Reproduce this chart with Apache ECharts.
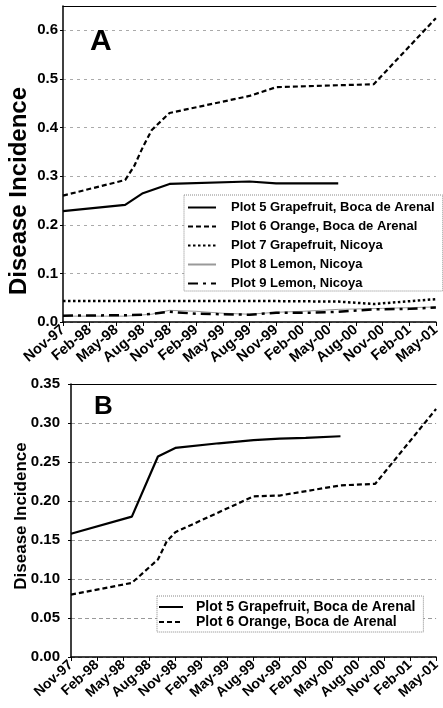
<!DOCTYPE html>
<html>
<head>
<meta charset="utf-8">
<script src="https://cdn.jsdelivr.net/npm/echarts@6/dist/echarts.min.js"></script>
<style>
  html, body { margin: 0; padding: 0; background: #fff; }
  #chart { width: 443px; height: 708px; }
</style>
</head>
<body>
<div id="chart"></div>
<script>
// monthly categories, a tick label every third month
const months = [
  'Nov-97', 'Dec-97', 'Jan-98', 'Feb-98', 'Mar-98', 'Apr-98', 'May-98', 'Jun-98', 'Jul-98', 'Aug-98',
  'Sep-98', 'Oct-98', 'Nov-98', 'Dec-98', 'Jan-99', 'Feb-99', 'Mar-99', 'Apr-99', 'May-99', 'Jun-99',
  'Jul-99', 'Aug-99', 'Sep-99', 'Oct-99', 'Nov-99', 'Dec-99', 'Jan-00', 'Feb-00', 'Mar-00', 'Apr-00',
  'May-00', 'Jun-00', 'Jul-00', 'Aug-00', 'Sep-00', 'Oct-00', 'Nov-00', 'Dec-00', 'Jan-01', 'Feb-01',
  'Mar-01', 'Apr-01', 'May-01'
];

// panel A
const plot5A = [['Nov-97', 0.228], ['Jun-98', 0.241], ['Aug-98', 0.265], ['Nov-98', 0.284], ['Aug-99', 0.289], ['Nov-99', 0.285], ['Jun-00', 0.285]];
const plot6A = [['Nov-97', 0.26], ['Jun-98', 0.292], ['Jul-98', 0.32], ['Aug-98', 0.36], ['Sep-98', 0.395], ['Nov-98', 0.43],
  ['Aug-99', 0.465], ['Nov-99', 0.483], ['Jun-00', 0.487], ['Oct-00', 0.489], ['May-01', 0.625]];
const plot7A = [['Nov-97', 0.043], ['Nov-98', 0.043], ['Nov-99', 0.043], ['Jun-00', 0.042], ['Oct-00', 0.037], ['May-01', 0.047]];
const plot8A = [['Nov-97', 0.012], ['Jun-98', 0.012], ['Sep-98', 0.016], ['Nov-98', 0.024], ['Feb-99', 0.022], ['May-99', 0.018],
  ['Aug-99', 0.016], ['Nov-99', 0.02], ['Feb-00', 0.022], ['Jun-00', 0.026], ['Nov-00', 0.028], ['May-01', 0.031]];
const plot9A = [['Nov-97', 0.013], ['Jun-98', 0.014], ['Aug-98', 0.015], ['Nov-98', 0.021], ['Feb-99', 0.017], ['Aug-99', 0.015],
  ['Nov-99', 0.019], ['Mar-00', 0.019], ['Jun-00', 0.021], ['Oct-00', 0.026], ['Feb-01', 0.027], ['May-01', 0.03]];

// panel B
const plot5B = [['Nov-97', 0.158], ['Jun-98', 0.18], ['Sep-98', 0.257], ['Nov-98', 0.268], ['Apr-99', 0.274], ['Aug-99', 0.278],
  ['Nov-99', 0.28], ['Feb-00', 0.281], ['Jun-00', 0.283]];
const plot6B = [['Nov-97', 0.08], ['Jun-98', 0.095], ['Sep-98', 0.125], ['Oct-98', 0.148], ['Nov-98', 0.16], ['Aug-99', 0.206],
  ['Nov-99', 0.207], ['Jun-00', 0.22], ['Oct-00', 0.222], ['May-01', 0.318]];

const names = [
  'Plot 5 Grapefruit, Boca de Arenal',
  'Plot 6 Orange, Boca de Arenal',
  'Plot 7 Grapefruit, Nicoya',
  'Plot 8 Lemon, Nicoya',
  'Plot 9 Lemon, Nicoya'
];

const font = 'Liberation Sans, Arial, sans-serif';
const styles = [
  { color: '#000', width: 2.2, type: 'solid' },
  { color: '#000', width: 2.2, type: [5, 3] },
  { color: '#000', width: 2.5, type: [2.5, 2.5] },
  { color: '#999', width: 1, type: 'solid' },
  { color: '#000', width: 2.5, type: [10, 5, 3, 5] }
];

function line(name, data, st, idx) {
  return {
    name: name, type: 'line', data: data, symbol: 'none',
    xAxisIndex: idx, yAxisIndex: idx,
    lineStyle: st, itemStyle: { color: st.color },
    emphasis: { disabled: true }
  };
}

function bottomAxis(idx, labelSize, rot) {
  return {
    type: 'category', gridIndex: idx, data: months, boundaryGap: false,
    axisLine: { lineStyle: { color: '#000', width: 1.5 } },
    axisTick: { interval: 2, length: 4, lineStyle: { color: '#000' } },
    axisLabel: { interval: 2, rotate: rot, margin: 6, color: '#000', fontFamily: font, fontWeight: 'bold', fontSize: labelSize }
  };
}

function topAxis(idx) {
  return {
    type: 'category', gridIndex: idx, data: months, boundaryGap: false, position: 'top',
    axisLine: { lineStyle: { color: '#000', width: 1.2 } },
    axisTick: { show: false }, axisLabel: { show: false }
  };
}

function yTitle(x, y, size) {
  return {
    type: 'text', x: x, y: y, rotation: Math.PI / 2,
    style: { text: 'Disease Incidence', fill: '#000', font: 'bold ' + size + 'px ' + font, align: 'center', verticalAlign: 'middle' }
  };
}

const chart = echarts.init(document.getElementById('chart'));
chart.setOption({
  animation: false,
  backgroundColor: '#fff',
  title: [
    { text: 'A', left: 85, top: 22, textStyle: { fontFamily: font, fontWeight: 'bold', fontSize: 30, color: '#000' } },
    { text: 'B', left: 89, top: 389, textStyle: { fontFamily: font, fontWeight: 'bold', fontSize: 26, color: '#000' } }
  ],
  graphic: [yTitle(19, 191, 24), yTitle(21, 516, 17)],
  grid: [
    { left: 63, right: 1, top: 6, bottom: 386 },
    { left: 71, right: 1, top: 384, bottom: 51 }
  ],
  legend: [
    {
      data: names, orient: 'vertical', left: 184, top: 195, width: 258,
      itemWidth: 28, itemHeight: 12, itemGap: 6, padding: [6, 8, 1, 3],
      itemStyle: { opacity: 0 },
      borderColor: '#888', borderWidth: 1, borderType: 'dotted', backgroundColor: '#fff',
      textStyle: { fontFamily: font, fontWeight: 'bold', fontSize: 13, lineHeight: 13, color: '#000', padding: [0, 0, 0, 10] }
    },
    {
      data: [{ name: 'B5' }, { name: 'B6' }], orient: 'vertical', left: 157, top: 596,
      itemWidth: 24, itemHeight: 10, itemGap: 1, padding: [4, 8, 3, 1],
      itemStyle: { opacity: 0 },
      borderColor: '#888', borderWidth: 1, borderType: 'dotted', backgroundColor: '#fff',
      formatter: function (n) { return n === 'B5' ? names[0] : names[1]; },
      textStyle: { fontFamily: font, fontWeight: 'bold', fontSize: 14, lineHeight: 14, color: '#000', padding: [0, 0, 0, 8] }
    }
  ],
  xAxis: [bottomAxis(0, 14.5, 40), bottomAxis(1, 14, 42), topAxis(0), topAxis(1)],
  yAxis: [
    {
      type: 'value', gridIndex: 0, min: 0, max: 0.65, interval: 0.1,
      axisLine: { show: true, lineStyle: { color: '#000', width: 1.5 } },
      axisTick: { show: true, length: 3, lineStyle: { color: '#000' } },
      axisLabel: { showMaxLabel: false, margin: 5, color: '#000', fontFamily: font, fontWeight: 'bold', fontSize: 15,
        formatter: function (v) { return v.toFixed(1); } },
      splitLine: { lineStyle: { color: '#aaa', type: [3, 4], width: 1 } }
    },
    {
      type: 'value', gridIndex: 1, min: 0, max: 0.35, interval: 0.05,
      axisLine: { show: true, lineStyle: { color: '#000', width: 1.5 } },
      axisTick: { show: true, length: 3, lineStyle: { color: '#000' } },
      axisLabel: { margin: 11, color: '#000', fontFamily: font, fontWeight: 'bold', fontSize: 15,
        formatter: function (v) { return v.toFixed(2); } },
      splitLine: { lineStyle: { color: '#999', type: [4, 3], width: 1 } }
    }
  ],
  series: [
    line(names[2], plot7A, styles[2], 0),
    line(names[3], plot8A, styles[3], 0),
    line(names[4], plot9A, styles[4], 0),
    line(names[1], plot6A, styles[1], 0),
    line(names[0], plot5A, styles[0], 0),
    line('B6', plot6B, styles[1], 1),
    line('B5', plot5B, styles[0], 1)
  ]
});
</script>
</body>
</html>
